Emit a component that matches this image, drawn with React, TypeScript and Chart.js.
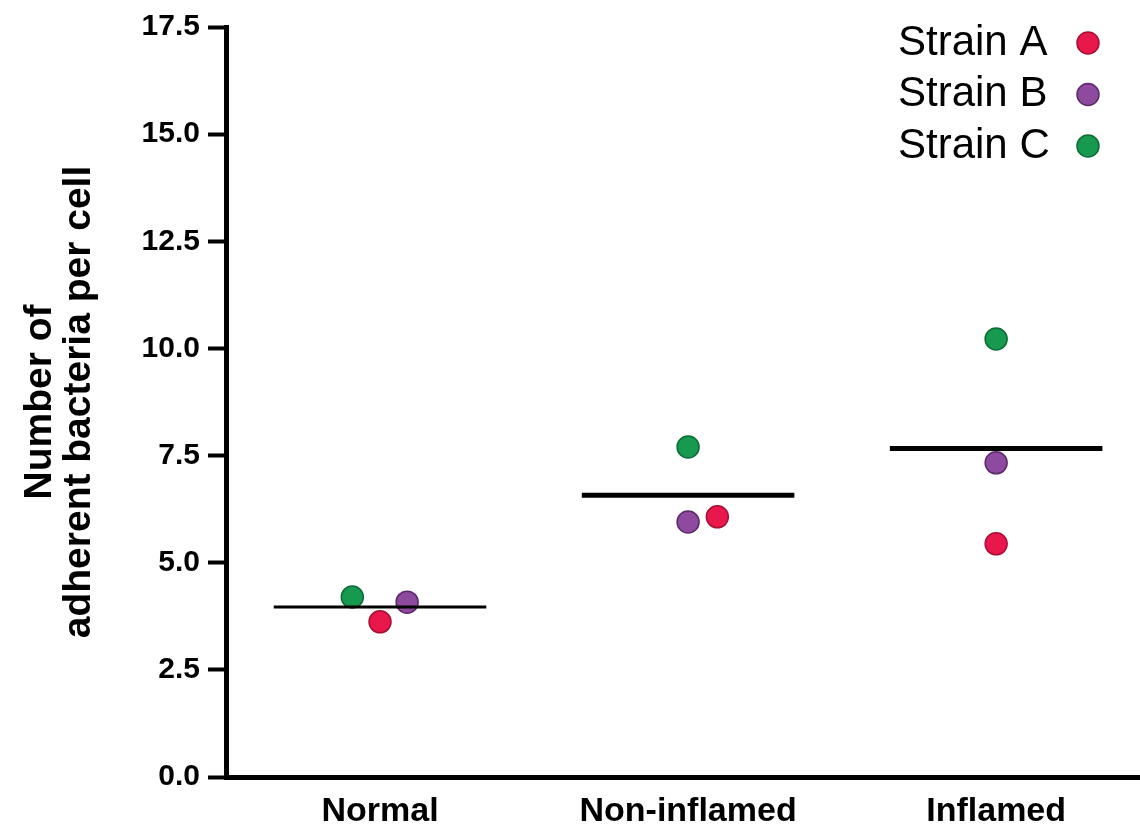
import React, { useEffect, useRef } from 'react';
import { Chart, registerables } from 'chart.js';

Chart.register(...registerables);

const categories = ['Normal', 'Non-inflamed', 'Inflamed'];
const strains = ['Strain A', 'Strain B', 'Strain C'];
const strainA = [3.62, 6.07, 5.44];
const strainB = [4.08, 5.95, 7.33];
const strainC = [4.2, 7.7, 10.22];
// horizontal jitter of each point inside its category (in category widths)
const jitterA = [0, 0.095, 0];
const jitterB = [0.088, 0, 0];
const jitterC = [-0.09, 0, 0];
const yTicks = [0, 2.5, 5, 7.5, 10, 12.5, 15, 17.5];

const strainColors = ['#e8184c', '#8d4a9e', '#179a50'];
const strainBorders = ['#a80f33', '#5c2a6b', '#0c6b35'];
const meanLineWidths = [3, 5, 5];
const FONT = '"Liberation Sans", Arial, Helvetica, sans-serif';

const seriesValues = [strainA, strainB, strainC];
const seriesJitter = [jitterA, jitterB, jitterC];

const legendPlugin = {
  id: 'strainLegend',
  afterDatasetsDraw(chart: any) {
    const { ctx, chartArea } = chart;
    ctx.save();
    ctx.font = `42px ${FONT}`;
    ctx.textBaseline = 'middle';
    ctx.textAlign = 'left';
    strains.forEach((name, i) => {
      const y = chartArea.top + 16 + i * 51.5;
      ctx.fillStyle = '#000';
      ctx.fillText(name, chartArea.right - 242, y);
      ctx.beginPath();
      ctx.arc(chartArea.right - 52, y, 11, 0, Math.PI * 2);
      ctx.fillStyle = strainColors[i];
      ctx.fill();
      ctx.lineWidth = 1.5;
      ctx.strokeStyle = strainBorders[i];
      ctx.stroke();
    });
    ctx.restore();
  },
};

export default function App() {
  const canvasRef = useRef<HTMLCanvasElement | null>(null);

  useEffect(() => {
    if (!canvasRef.current) return;

    const scatterSets = strains.map((name, s) => ({
      type: 'scatter' as const,
      label: name,
      order: 2,
      data: categories.map((_, i) => ({ x: i + 1 + seriesJitter[s][i], y: seriesValues[s][i] })),
      backgroundColor: strainColors[s],
      borderColor: strainBorders[s],
      borderWidth: 1.5,
      pointRadius: 11,
      pointHoverRadius: 11,
    }));

    const meanSets = categories.map((cat, i) => {
      const mean = (strainA[i] + strainB[i] + strainC[i]) / 3;
      return {
        type: 'line' as const,
        label: `Mean ${cat}`,
        order: 1,
        data: [
          { x: i + 1 - 0.345, y: mean },
          { x: i + 1 + 0.345, y: mean },
        ],
        borderColor: '#000',
        borderWidth: meanLineWidths[i],
        pointRadius: 0,
        showLine: true,
        fill: false,
      };
    });

    const chart = new Chart(canvasRef.current, {
      type: 'scatter',
      data: { datasets: [...meanSets, ...scatterSets] as any },
      options: {
        animation: false,
        responsive: true,
        maintainAspectRatio: false,
        layout: { autoPadding: false, padding: { top: 27, left: 0, right: 0, bottom: 0 } },
        plugins: {
          legend: { display: false },
          tooltip: { enabled: false },
        },
        scales: {
          x: {
            type: 'linear',
            min: 0.5,
            max: 3.467,
            afterBuildTicks: (s: any) => {
              s.ticks = categories.map((_, i) => ({ value: i + 1 }));
            },
            afterFit: (s: any) => {
              s.height = 49;
            },
            ticks: {
              callback: (v: any) => categories[Math.round(Number(v)) - 1] ?? '',
              font: { family: FONT, size: 34, weight: 'bold' },
              color: '#000',
              padding: 14,
              maxRotation: 0,
            },
            grid: { display: false, drawTicks: false },
            border: { display: true, color: '#000', width: 5 },
          },
          y: {
            type: 'linear',
            min: 0,
            max: 17.5,
            afterBuildTicks: (s: any) => {
              s.ticks = yTicks.map((v) => ({ value: v }));
            },
            afterFit: (s: any) => {
              s.width = 226;
            },
            ticks: {
              callback: (v: any) => Number(v).toFixed(1),
              font: { family: FONT, size: 30, weight: 'bold' },
              color: '#000',
              padding: 8,
            },
            grid: {
              drawOnChartArea: false,
              drawTicks: true,
              tickLength: 18,
              tickWidth: 4,
              tickColor: '#000',
              color: '#000',
            },
            border: { display: true, color: '#000', width: 5 },
            title: {
              display: true,
              text: ['Number of', 'adherent bacteria per cell'],
              font: { family: FONT, size: 39, weight: 'bold', lineHeight: 1.0 },
              color: '#000',
              padding: { top: 21, bottom: 0 },
            },
          },
        },
      },
      plugins: [legendPlugin],
    });

    return () => chart.destroy();
  }, []);

  return (
    <div
      style={{
        position: 'fixed',
        left: 0,
        top: 0,
        width: 1140,
        height: 826,
        background: '#fff',
      }}
    >
      <canvas ref={canvasRef} />
    </div>
  );
}
